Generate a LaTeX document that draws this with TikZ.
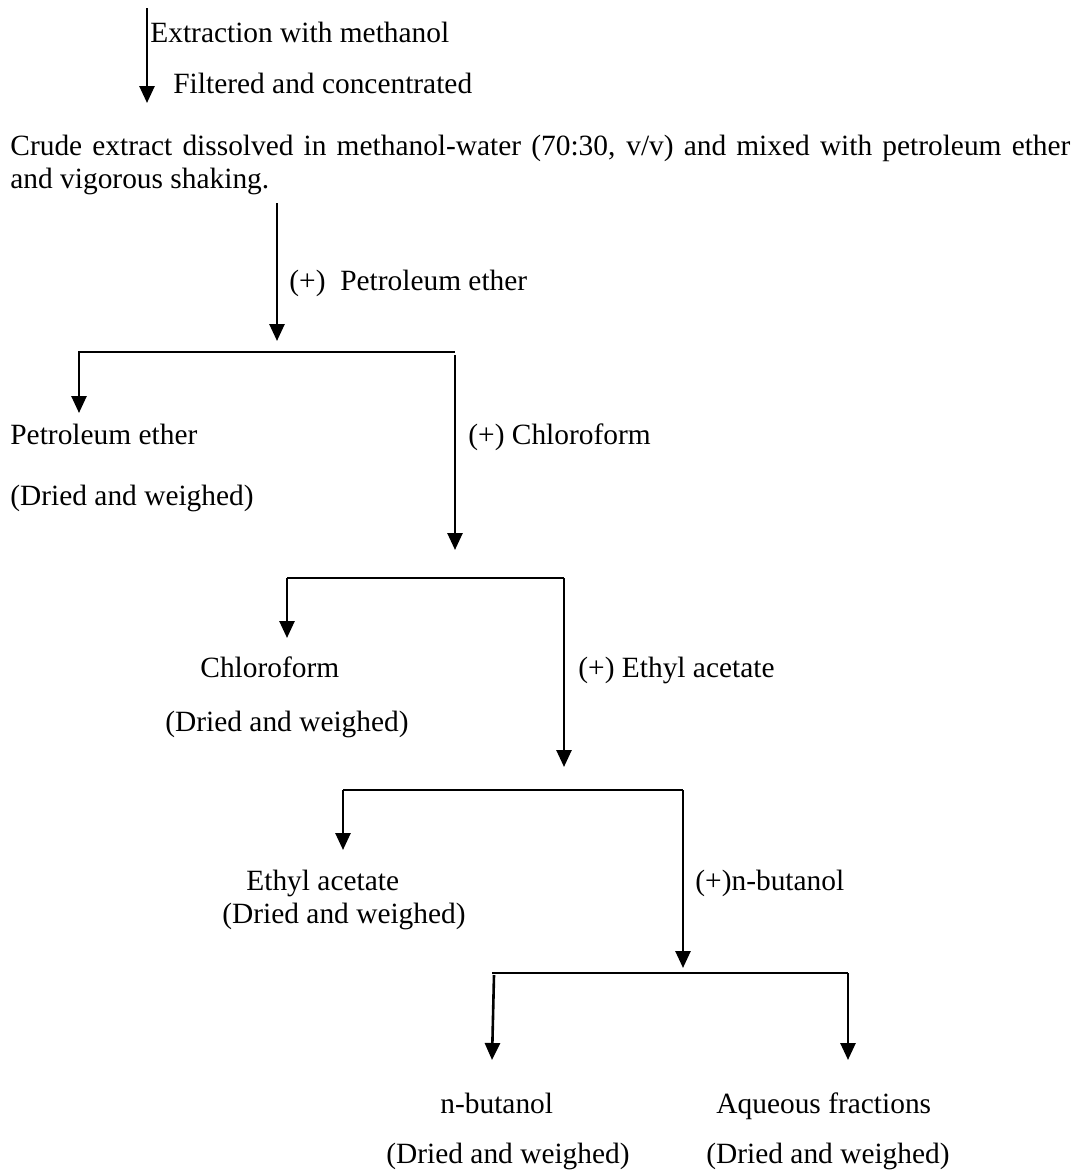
\documentclass[tikz,border=0pt]{standalone}
\usepackage{fontspec}
\setmainfont{Liberation Serif}
\usetikzlibrary{arrows.meta}
\begin{document}
\begin{tikzpicture}[x=0.5pt,y=-0.5pt,
  txt/.style={inner sep=0pt, anchor=base west, font=\fontsize{14.7pt}{17pt}\selectfont},
  arr/.style={line width=1.3pt, -{Triangle[length=8.5pt,width=7.5pt]}},
  ln/.style={line width=1.05pt}]
\useasboundingbox (0,0) rectangle (1081,1173);
% top
\coordinate (a0s) at (147,8);
\coordinate (a0e) at (147,103);
\draw[arr] (a0s) -- (a0e);
\node[txt] (ext) at (150,42) {Extraction with methanol};
\node[txt] (fil) at (173,93) {Filtered and concentrated};
\node[txt] (crude1) at (10,155) {\makebox[530pt][s]{Crude extract dissolved in methanol-water (70:30, v/v) and mixed with petroleum ether}};
\node[txt] (crude2) at (10,188) {and vigorous shaking.};
% level 1
\coordinate (a1s) at (277,203);
\coordinate (a1e) at (277,341);
\draw[arr] (a1s) -- (a1e);
\node[txt] (pe) at (289,290) {(+)\ \ Petroleum ether};
\coordinate (h1l) at (78,352);
\coordinate (h1r) at (455,352);
\draw[ln] (h1l) -- (h1r);
\coordinate (l1s) at (79,352);
\coordinate (l1e) at (79,413);
\draw[arr] (l1s) -- (l1e);
\node[txt] (pet) at (10,444) {Petroleum ether};
\node[txt] (petd) at (10,505) {(Dried and weighed)};
\coordinate (r1s) at (455,355);
\coordinate (r1e) at (455,550);
\draw[arr] (r1s) -- (r1e);
\node[txt] (chl) at (468,444) {(+) Chloroform};
% level 2
\coordinate (h2l) at (287,578);
\coordinate (h2r) at (564,578);
\draw[ln] (h2l) -- (h2r);
\coordinate (l2e) at (287,638);
\draw[arr] (h2l) -- (l2e);
\coordinate (r2e) at (564,767);
\draw[arr] (h2r) -- (r2e);
\node[txt] (chf) at (200,677) {Chloroform};
\node[txt] (chfd) at (165,731) {(Dried and weighed)};
\node[txt] (eaa) at (578,677) {(+) Ethyl acetate};
% level 3
\coordinate (h3l) at (343,790);
\coordinate (h3r) at (683,790);
\draw[ln] (h3l) -- (h3r);
\coordinate (l3e) at (343,850);
\draw[arr] (h3l) -- (l3e);
\coordinate (r3e) at (683,968);
\draw[arr] (h3r) -- (r3e);
\node[txt] (ea) at (246,890) {Ethyl acetate};
\node[txt] (ead) at (222,923) {(Dried and weighed)};
\node[txt] (nba) at (695,890) {(+)n-butanol};
% level 4
\coordinate (h4l) at (492,973);
\coordinate (h4r) at (848,973);
\draw[ln] (h4l) -- (h4r);
\coordinate (l4s) at (494,975);
\coordinate (l4e) at (492,1060);
\draw[arr] (l4s) -- (l4e);
\coordinate (r4e) at (848,1060);
\draw[arr] (h4r) -- (r4e);
\node[txt] (nb) at (440,1113) {n-butanol};
\node[txt] (aq) at (716,1113) {Aqueous fractions};
\node[txt] (nbd) at (386,1163) {(Dried and weighed)};
\node[txt] (aqd) at (706,1163) {(Dried and weighed)};
\end{tikzpicture}
\end{document}
